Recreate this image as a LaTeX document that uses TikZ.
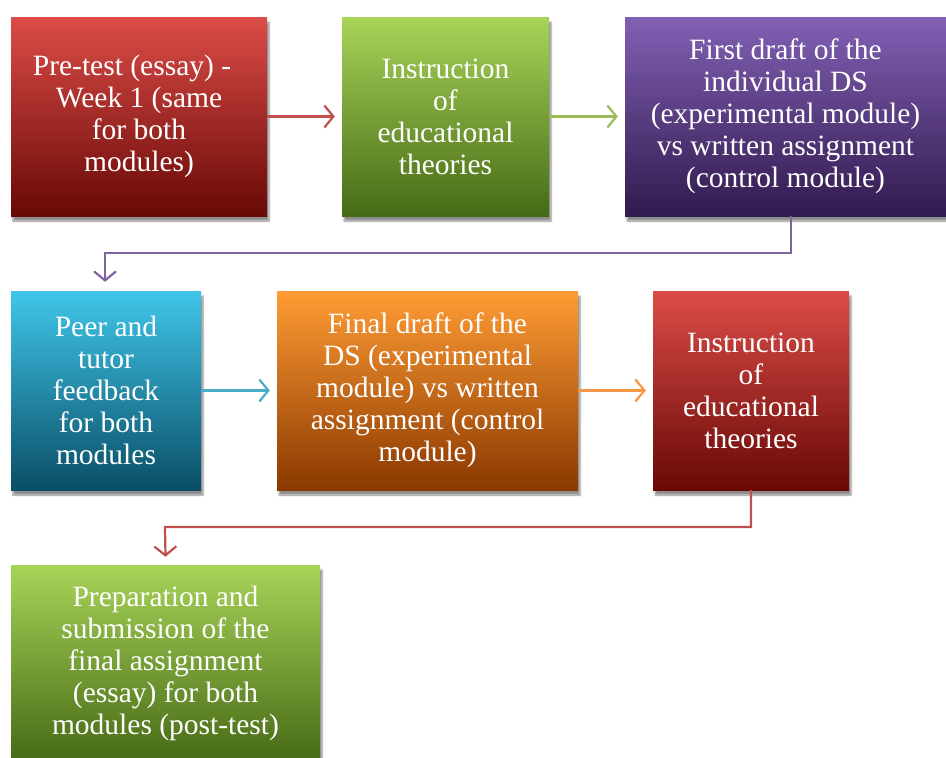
\documentclass[tikz,border=0pt]{standalone}
\usepackage{fontspec}
\setmainfont{Liberation Serif}
\usetikzlibrary{shadows.blur,arrows.meta}
\definecolor{redT}{HTML}{DC4C48}\definecolor{redB}{HTML}{680906}
\definecolor{grnT}{HTML}{A8D458}\definecolor{grnB}{HTML}{466A16}
\definecolor{purT}{HTML}{8160B4}\definecolor{purB}{HTML}{311A4E}
\definecolor{cyaT}{HTML}{40C6EA}\definecolor{cyaB}{HTML}{0A4E66}
\definecolor{orgT}{HTML}{FF9C34}\definecolor{orgB}{HTML}{8A3800}
\definecolor{aRed}{HTML}{C0504D}\definecolor{aGrn}{HTML}{9BBB59}
\definecolor{aPur}{HTML}{8064A2}\definecolor{aCya}{HTML}{4BACC6}
\definecolor{aOrg}{HTML}{F79646}
\tikzset{
  boxbase/.style={draw=none,align=center,text=white,inner sep=0pt,
    font=\fontsize{29.5}{32}\selectfont,
    blur shadow={shadow xshift=2pt,shadow yshift=-5pt,shadow blur steps=6,shadow opacity=45}},
  redbox/.style={boxbase,top color=redT,bottom color=redB},
  grnbox/.style={boxbase,top color=grnT,bottom color=grnB},
  purbox/.style={boxbase,top color=purT,bottom color=purB},
  cyabox/.style={boxbase,top color=cyaT,bottom color=cyaB},
  orgbox/.style={boxbase,top color=orgT,bottom color=orgB},
  conn/.style={line width=2.2pt,-{Straight Barb[length=9pt,width=22pt,line width=2.2pt]}},
}
\begin{document}
\begin{tikzpicture}[x=1pt,y=-1pt]
\useasboundingbox (0,0) rectangle (946,758);
\node[redbox,minimum width=256,minimum height=199] (b1) at (139,116.5) {Pre-test (essay) -\hspace*{14pt}\\Week 1 (same\\for both\\modules)};
\node[grnbox,minimum width=207,minimum height=199] (b2) at (445.5,116.5) {Instruction\\of\\educational\\theories};
\node[purbox,minimum width=321,minimum height=199] (b3) at (785.5,116.5) {First draft of the\\individual DS\\(experimental module)\\vs written assignment\\(control module)};
\node[cyabox,minimum width=190,minimum height=199] (b4) at (106,390.5) {Peer and\\tutor\\feedback\\for both\\modules};
\node[orgbox,minimum width=301,minimum height=199] (b5) at (427.5,390.5) {Final draft of the\\DS (experimental\\module) vs written\\assignment (control\\module)};
\node[redbox,minimum width=196,minimum height=199] (b6) at (751,390.5) {Instruction\\of\\educational\\theories};
\node[grnbox,minimum width=309,minimum height=196] (b7) at (165.5,663) {Preparation and\\submission of the\\final assignment\\(essay) for both\\modules (post-test)};
\draw[conn,aRed] (b1.east) -- ([xshift=-7]b2.west);
\draw[conn,aGrn] (b2.east) -- ([xshift=-7]b3.west);
\draw[conn,aPur] (b3.south -| 791,0) |- (105,253) -- ([yshift=9]b4.north -| 105,0);
\draw[conn,aCya] (b4.east) -- ([xshift=-7]b5.west);
\draw[conn,aOrg] (b5.east) -- ([xshift=-7]b6.west);
\draw[conn,aRed] (b6.south) |- (165,527) -- ([yshift=8]b7.north);
\end{tikzpicture}
\end{document}
